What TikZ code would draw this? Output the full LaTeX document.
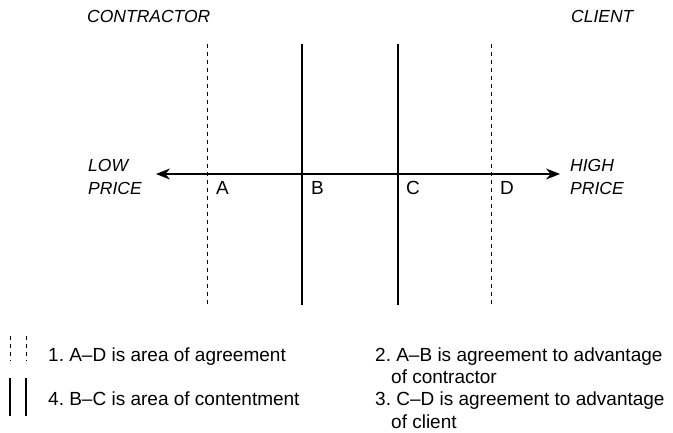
\documentclass[tikz,border=0pt]{standalone}
\usepackage{fontspec}
\setmainfont{Liberation Sans}
\usetikzlibrary{arrows.meta}
\frenchspacing
\begin{document}
\begin{tikzpicture}[x=1pt,y=-1pt,
  lbl/.style={font=\fontsize{17.5}{20}\selectfont\itshape, anchor=base west, inner sep=0pt},
  txt/.style={font=\fontsize{19}{22}\selectfont, anchor=base west, inner sep=0pt},
  dline/.style={line width=1pt, dash pattern=on 4pt off 4pt},
  sline/.style={line width=1.2pt},
  axis/.style={line width=1.2pt, {Stealth[length=14pt,width=11pt]}-{Stealth[length=14pt,width=11pt]}}]
\useasboundingbox (0,0) rectangle (673,433);
% vertical lines
\coordinate (At) at (207,44); \coordinate (Ab) at (207,305);
\coordinate (Bt) at (302,44); \coordinate (Bb) at (302,305);
\coordinate (Ct) at (398,44); \coordinate (Cb) at (398,305);
\coordinate (Dt) at (491,44); \coordinate (Db) at (491,305);
\draw[dline] (At) -- (Ab);
\draw[sline] (Bt) -- (Bb);
\draw[sline] (Ct) -- (Cb);
\draw[dline] (Dt) -- (Db);
% axis
\coordinate (L) at (156,174); \coordinate (R) at (560,174);
\draw[axis] (L) -- (R);
% labels
\node[lbl] (contractor) at (87,23) {CONTRACTOR};
\node[lbl] (client) at (571,23) {CLIENT};
\node[lbl] (low) at (88,172) {LOW};
\node[lbl] (lowp) at (88,195) {PRICE};
\node[lbl] (high) at (570,172) {HIGH};
\node[lbl] (highp) at (570,195) {PRICE};
\node[txt] (a) at (216,195) {A};
\node[txt] (b) at (311,195) {B};
\node[txt] (c) at (406,195) {C};
\node[txt] (d) at (500,195) {D};
% legend
\coordinate (l1t) at (10,336); \coordinate (l1b) at (10,361);
\coordinate (l2t) at (26,336); \coordinate (l2b) at (26,361);
\draw[dline] (l1t) -- (l1b);
\draw[dline] (l2t) -- (l2b);
\coordinate (s1t) at (10,378); \coordinate (s1b) at (10,416);
\coordinate (s2t) at (26,378); \coordinate (s2b) at (26,416);
\draw[sline] (s1t) -- (s1b);
\draw[sline] (s2t) -- (s2b);
\node[txt] (t1) at (48,361) {1. A--D is area of agreement};
\node[txt] (t4) at (48,405) {4. B--C is area of contentment};
\node[txt] (t2) at (375,361) {2. A--B is agreement to advantage};
\node[txt] (t2b) at (391,383) {of contractor};
\node[txt] (t3) at (375,405) {3. C--D is agreement to advantage};
\node[txt] (t3b) at (391,428) {of client};
\end{tikzpicture}
\end{document}
